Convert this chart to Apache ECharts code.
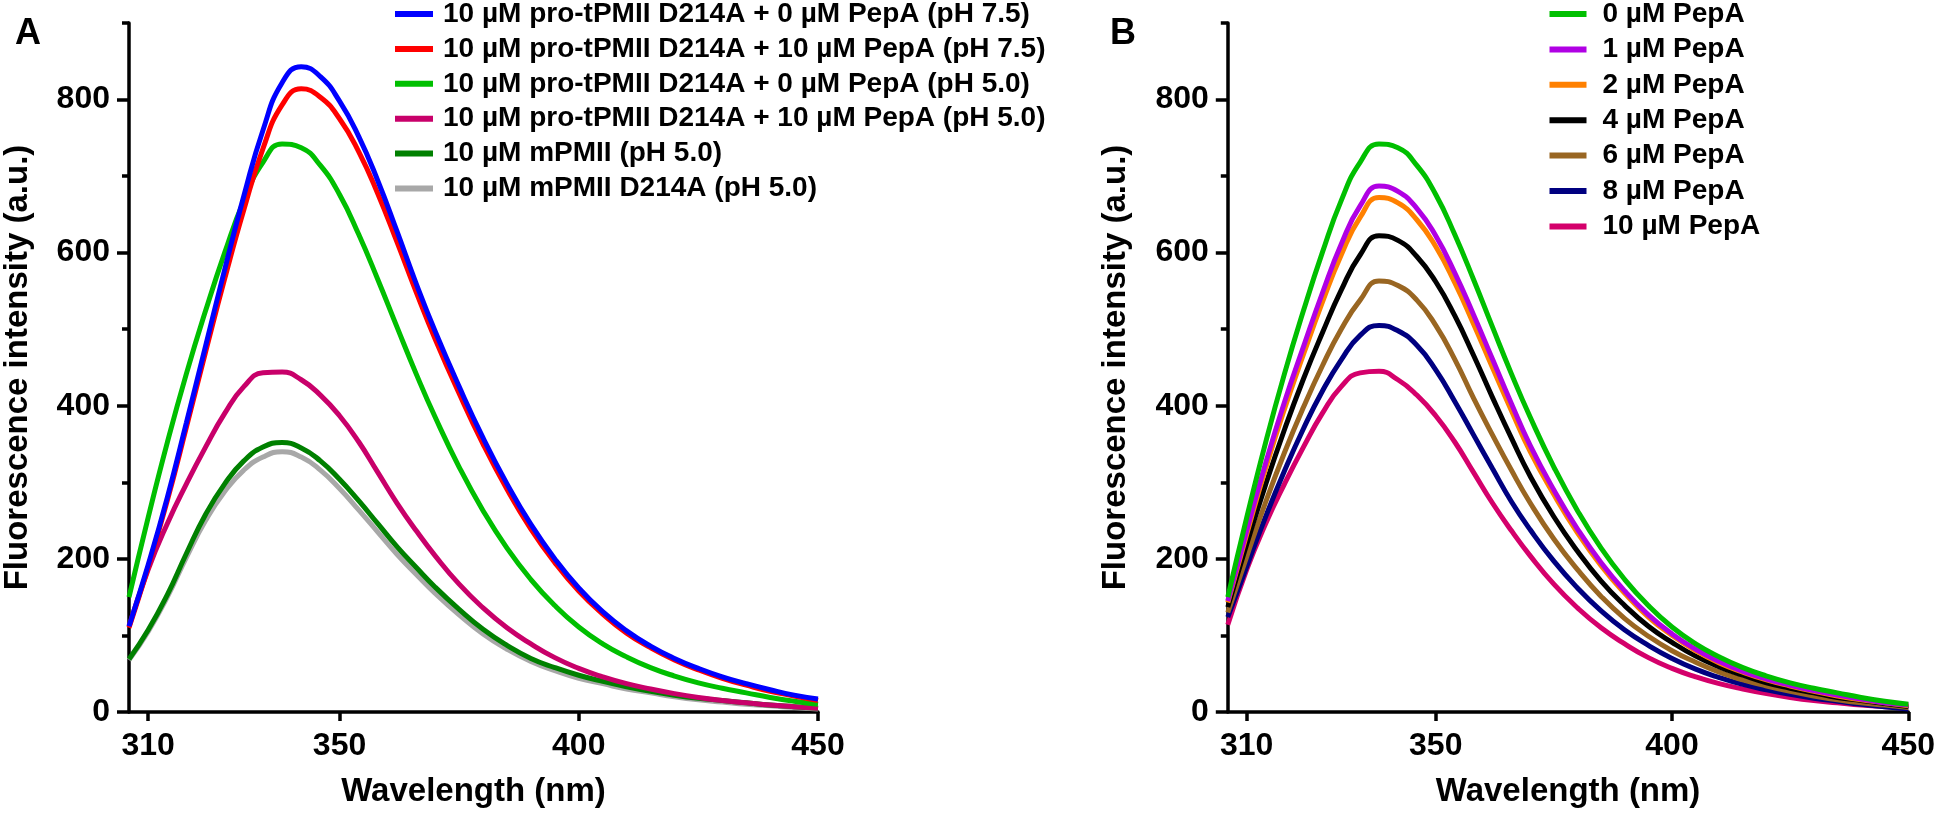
<!DOCTYPE html>
<html><head><meta charset="utf-8">
<script src="https://cdn.jsdelivr.net/npm/echarts@6/dist/echarts.min.js"></script>
<style>html,body{margin:0;padding:0;background:#fff}#c{width:1938px;height:813px}</style>
</head><body><div id="c"></div>
<script>
// ---- data ----
const wavelength = [306,310,314,318,322,326,330,334,338,342,346,350,354,358,362,366,370,375,380,385,390,395,400,405,410,415,420,425,430,435,440,445,450];
const xTicks = [310,350,400,450];
const yTicks = [0,200,400,600,800];
const yMinorTicks = [100,300,500,700,900];

// Panel A
const namesA = [
  '10 µM pro-tPMII D214A + 0 µM PepA (pH 7.5)',
  '10 µM pro-tPMII D214A + 10 µM PepA (pH 7.5)',
  '10 µM pro-tPMII D214A + 0 µM PepA (pH 5.0)',
  '10 µM pro-tPMII D214A + 10 µM PepA (pH 5.0)',
  '10 µM mPMII (pH 5.0)',
  '10 µM mPMII D214A (pH 5.0)'
];
const a_pH75_pepA0  = [112,192,280,378,478,578,674,760,822,843,830,798,752,694,628,560,497,425,358,298,245,200,162,131,106,86,70,57,46,37,29,22,17];
const a_pH75_pepA10 = [110,189,276,372,470,566,656,736,793,814,803,775,732,677,614,549,487,416,350,291,239,195,158,128,103,84,68,55,44,35,27,21,15];
const a_pH50_pepA0  = [150,254,352,442,524,600,668,718,742,737,714,676,624,565,503,442,385,320,263,214,173,139,111,89,72,58,47,38,31,25,19,14,10];
const a_pH50_pepA10 = [112,186,246,298,346,390,425,443,444,434,414,387,353,313,273,237,204,167,136,110,89,71,57,46,37,30,24,19,15,12,9,7,5];
const a_mPMII       = [69,107,153,207,258,298,328,346,352,345,328,304,276,246,216,189,163,134,108,87,70,58,48,40,33,27,22,18,15,12,9,7,5];
const a_mPMII_D214A = [68,105,150,202,250,288,316,333,340,333,316,292,264,235,206,180,155,127,102,82,66,54,44,37,30,25,20,16,13,10,8,6,4];
const colorsA = ['#0000FF','#FF0000','#00BF00','#C8006A','#008000','#A8A8A8'];

// Panel B
const namesB = ['0 µM PepA','1 µM PepA','2 µM PepA','4 µM PepA','6 µM PepA','8 µM PepA','10 µM PepA'];
const b_pepA0  = [150,254,352,442,524,600,668,718,742,737,714,676,624,565,503,442,385,320,263,214,173,139,111,89,72,58,47,38,31,25,19,14,10];
const b_pepA1  = [145,237,325,405,477,547,611,661,687,680,658,622,574,519,461,403,348,290,239,195,158,127,102,82,66,53,43,35,28,22,17,12,9];
const b_pepA2  = [143,232,318,396,467,535,597,646,672,665,643,608,561,507,450,394,340,284,234,191,155,124,100,80,64,52,42,34,27,21,16,12,8];
const b_pepA4  = [137,219,297,369,435,495,551,597,622,616,595,562,518,466,411,358,308,255,210,171,139,112,91,73,59,48,38,31,25,19,15,11,7];
const b_pepA6  = [130,203,274,339,398,452,500,538,563,557,538,505,461,410,362,316,273,226,186,151,122,99,80,65,52,42,34,27,21,16,12,9,6];
const b_pepA8  = [124,190,255,315,370,419,460,492,505,498,479,447,406,362,318,275,238,197,162,132,107,87,70,56,45,36,29,23,18,14,10,7,4];
const b_pepA10 = [114,186,246,298,346,390,425,443,445,434,414,387,353,313,273,237,204,167,136,110,89,71,57,46,37,30,24,19,15,12,9,7,5];
const colorsB = ['#00BF00','#B000E4','#FF8000','#000000','#996622','#000080','#D4006B'];

// ---- chart ----
const FONT = '"Liberation Sans", Arial, sans-serif';
const pts = vals => wavelength.map((w, i) => [w, vals[i]]);
const valsA = [a_pH75_pepA0, a_pH75_pepA10, a_pH50_pepA0, a_pH50_pepA10, a_mPMII, a_mPMII_D214A];
const valsB = [b_pepA0, b_pepA1, b_pepA2, b_pepA4, b_pepA6, b_pepA8, b_pepA10];

function mkSeries(names, vals, colors, xi, yi) {
  return names.map((n, i) => ({
    name: n, type: 'line', xAxisIndex: xi, yAxisIndex: yi,
    data: pts(vals[i]), showSymbol: false, symbol: 'none', smooth: 0.5,
    lineStyle: { width: 5, color: colors[i] }, itemStyle: { color: colors[i] },
    z: 20 - i, emphasis: { disabled: true }, silent: true
  }));
}

const lblStyle = { fontFamily: FONT, fontWeight: 'bold', fontSize: 32, color: '#000' };
const nameStyle = { fontFamily: FONT, fontWeight: 'bold', fontSize: 33, color: '#000' };
const axLine = { show: true, onZero: false, lineStyle: { color: '#000', width: 3.5 } };

function xAx(g) {
  return { gridIndex: g, type: 'value', min: 306, max: 450,
    axisLine: axLine,
    axisTick: { show: true, customValues: xTicks, length: 9, lineStyle: { color: '#000', width: 3.5 } },
    axisLabel: Object.assign({ customValues: xTicks, margin: 18 }, lblStyle),
    splitLine: { show: false },
    name: 'Wavelength (nm)', nameLocation: 'middle', nameGap: 63, nameTextStyle: nameStyle };
}
function yAx(g) {
  return { gridIndex: g, type: 'value', min: 0, max: 900, position: 'left',
    axisLine: axLine,
    axisTick: { show: true, customValues: yTicks, length: 12, lineStyle: { color: '#000', width: 3.5 } },
    axisLabel: Object.assign({ customValues: yTicks, margin: 19 }, lblStyle),
    splitLine: { show: false },
    name: 'Fluorescence intensity (a.u.)', nameLocation: 'middle', nameGap: 95, nameTextStyle: nameStyle };
}
function yMinor(g) {
  return { gridIndex: g, type: 'value', min: 0, max: 900, position: 'left', offset: 0,
    axisLine: { show: false },
    axisTick: { show: true, customValues: yMinorTicks, length: 7, lineStyle: { color: '#000', width: 3.5 } },
    axisLabel: { show: false }, splitLine: { show: false } };
}
function legendOf(names, left, iw, gap, textPad) {
  return { data: names, orient: 'vertical', left: left, top: 0, padding: 0,
    itemWidth: iw, itemHeight: 6, itemGap: gap, icon: 'rect', selectedMode: false,
    textStyle: { fontFamily: FONT, fontWeight: 'bold', fontSize: 28, lineHeight: 28, color: '#000', padding: [0,0,0,textPad] } };
}

const chart = echarts.init(document.getElementById('c'));
chart.setOption({
  animation: false,
  backgroundColor: '#fff',
  grid: [
    { left: 128.5, top: 23, width: 689.5, height: 689.7 },
    { left: 1227.8, top: 23, width: 682.9, height: 689.7 }
  ],
  xAxis: [xAx(0), xAx(1)],
  yAxis: [yAx(0), yMinor(0), yAx(1), yMinor(1)],
  legend: [legendOf(namesA, 395, 38, 6.9, 5), legendOf(namesB, 1549.5, 37, 7.4, 11)],
  graphic: [
    { type: 'text', left: 15, top: 16, style: { text: 'A', font: 'bold 36px ' + FONT, fill: '#000' } },
    { type: 'text', left: 1110, top: 16, style: { text: 'B', font: 'bold 36px ' + FONT, fill: '#000' } }
  ],
  series: mkSeries(namesA, valsA, colorsA, 0, 0).concat(mkSeries(namesB, valsB, colorsB, 1, 2))
});
</script>
</body></html>
